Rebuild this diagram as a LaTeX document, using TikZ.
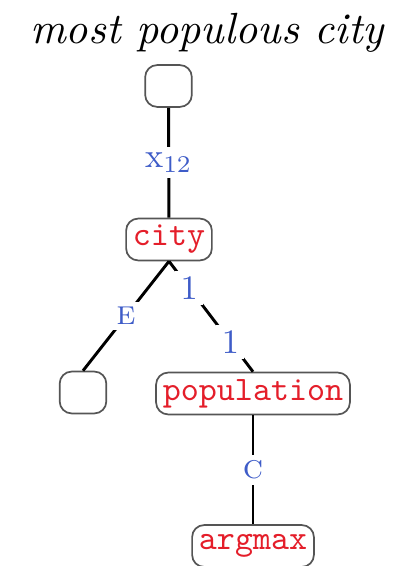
\documentclass[tikz,border=0pt]{standalone}
\usepackage{xcolor}
\usepackage{graphicx}
\definecolor{termred}{RGB}{228,30,42}
\definecolor{labelblue}{RGB}{62,92,200}
\definecolor{boxgray}{RGB}{85,85,85}
\begin{document}
\begin{tikzpicture}[x=0.2915pt,y=-0.2915pt,
  tnode/.style={draw=boxgray,line width=0.5pt,rounded corners=3.5pt,
    minimum height=12.2pt,inner xsep=2pt,inner ysep=0pt,
    font=\ttfamily,text=termred},
  emptynode/.style={tnode,minimum width=13.6pt},
  edge/.style={line width=0.85pt,black},
  elabel/.style={fill=white,inner sep=1.6pt,text=labelblue,font=\normalsize}]
\useasboundingbox (0,0) rectangle (409,566);
% title, set in 10pt italic and stretched to the full width
\node[anchor=base,inner sep=0pt] (title) at (207,44)
  {\resizebox{103pt}{!}{\itshape most populous city}};
\node[emptynode] (root) at (168.5,86) {};
\node[tnode] (city) at (169,239.5) {city};
\node[emptynode] (left) at (83,392.5) {};
\node[tnode] (pop) at (253,393.5) {population};
\node[tnode] (argm) at (253,546) {argmax};
\draw[edge] (root) -- node[elabel] {x$_{12}$} (city);
\draw[edge] (city.south) -- node[elabel] {\textsc{e}} (left.north);
\draw[edge] (city.south) -- node[elabel,pos=0.24] {1} node[elabel,pos=0.73] {1} (pop.north);
\draw[edge] (pop) -- node[elabel] {\textsc{c}} (argm);
\end{tikzpicture}
\end{document}
